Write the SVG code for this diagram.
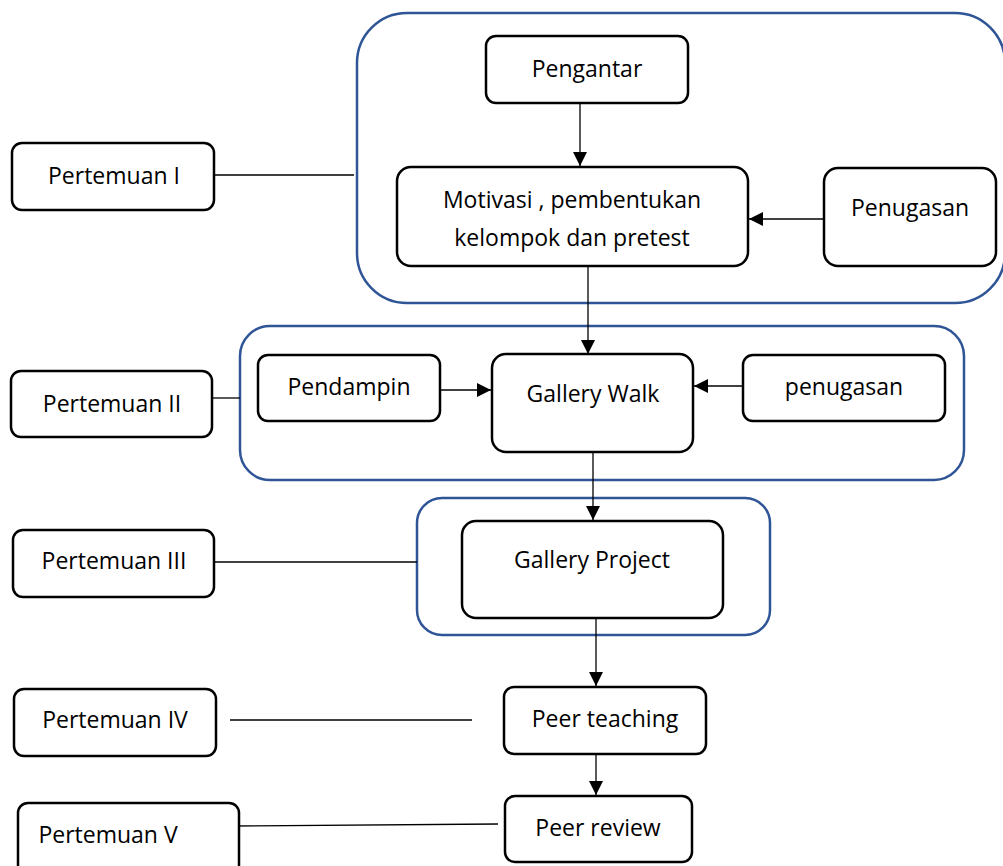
<svg xmlns="http://www.w3.org/2000/svg" width="1003" height="866" viewBox="0 0 1003 866">
<style>
.n{fill:#fff;stroke:#000;stroke-width:2.5}
.g{fill:none;stroke:#2f5597;stroke-width:2.5}
.t{font-family:"Open Sans","Liberation Sans",sans-serif;font-size:23px;fill:#000;text-anchor:middle}
.c{stroke:#000;stroke-width:1.3;fill:none}
</style>
<defs>
<marker id="a" viewBox="0 0 14 14" refX="14" refY="7" markerWidth="14" markerHeight="14" markerUnits="userSpaceOnUse" orient="auto">
<path d="M0,0 L14,7 L0,14 Z" fill="#000"/>
</marker>
</defs>
<rect width="1003" height="866" fill="#fff"/>
<g id="groups">
<rect class="g" x="357" y="13" width="648" height="290" rx="50"/>
<rect class="g" x="240" y="326" width="724" height="154" rx="30"/>
<rect class="g" x="417" y="498" width="353" height="137" rx="25"/>
</g>
<g id="connectors">
<line class="c" x1="580" y1="103" x2="580" y2="166" marker-end="url(#a)"/>
<line class="c" x1="824" y1="219" x2="749" y2="219" marker-end="url(#a)"/>
<line class="c" x1="588" y1="266" x2="588" y2="354" marker-end="url(#a)"/>
<line class="c" x1="440" y1="390" x2="491" y2="390" marker-end="url(#a)"/>
<line class="c" x1="743" y1="386" x2="694" y2="386" marker-end="url(#a)"/>
<line class="c" x1="593" y1="452" x2="593" y2="520" marker-end="url(#a)"/>
<line class="c" x1="596" y1="612" x2="596" y2="686" marker-end="url(#a)"/>
<line class="c" x1="596" y1="754" x2="596" y2="795" marker-end="url(#a)"/>
<line class="c" x1="214" y1="175" x2="354" y2="175"/>
<line class="c" x1="212" y1="398" x2="240" y2="398"/>
<line class="c" x1="214" y1="562" x2="417" y2="562"/>
<line class="c" x1="230" y1="720" x2="472" y2="720"/>
<line class="c" x1="230" y1="826" x2="498" y2="824"/>
</g>
<g id="pengantar"><rect class="n" x="486" y="36" width="202" height="67" rx="10"/><text class="t" x="587" y="77">Pengantar</text></g>
<g id="motivasi"><rect class="n" x="397" y="167" width="351" height="99" rx="14"/><text class="t" x="572" y="208">Motivasi , pembentukan</text><text class="t" x="572" y="246">kelompok dan pretest</text></g>
<g id="penugasan1"><rect class="n" x="824" y="168" width="172" height="98" rx="14"/><text class="t" x="910" y="216">Penugasan</text></g>
<g id="pendampin"><rect class="n" x="258" y="355" width="182" height="66" rx="10"/><text class="t" x="349" y="395">Pendampin</text></g>
<g id="gallerywalk"><rect class="n" x="492" y="354" width="201" height="98" rx="14"/><text class="t" x="593" y="402">Gallery Walk</text></g>
<g id="penugasan2"><rect class="n" x="743" y="355" width="202" height="66" rx="10"/><text class="t" x="844" y="395">penugasan</text></g>
<g id="galleryproject"><rect class="n" x="462" y="521" width="261" height="97" rx="14"/><text class="t" x="592" y="568">Gallery Project</text></g>
<g id="peerteaching"><rect class="n" x="504" y="687" width="202" height="67" rx="10"/><text class="t" x="605" y="727">Peer teaching</text></g>
<g id="peerreview"><rect class="n" x="505" y="796" width="187" height="66" rx="10"/><text class="t" x="598" y="836">Peer review</text></g>
<g id="p1"><rect class="n" x="12" y="143" width="202" height="67" rx="10"/><text class="t" x="114" y="184">Pertemuan I</text></g>
<g id="p2"><rect class="n" x="11" y="371" width="201" height="66" rx="10"/><text class="t" x="112" y="412">Pertemuan II</text></g>
<g id="p3"><rect class="n" x="13" y="530" width="201" height="67" rx="10"/><text class="t" x="114" y="569">Pertemuan III</text></g>
<g id="p4"><rect class="n" x="14" y="689" width="202" height="67" rx="10"/><text class="t" x="115" y="728">Pertemuan IV</text></g>
<g id="p5"><rect class="n" x="18" y="803" width="221" height="75" rx="10"/><text class="t" x="108" y="843">Pertemuan V</text></g>
</svg>
